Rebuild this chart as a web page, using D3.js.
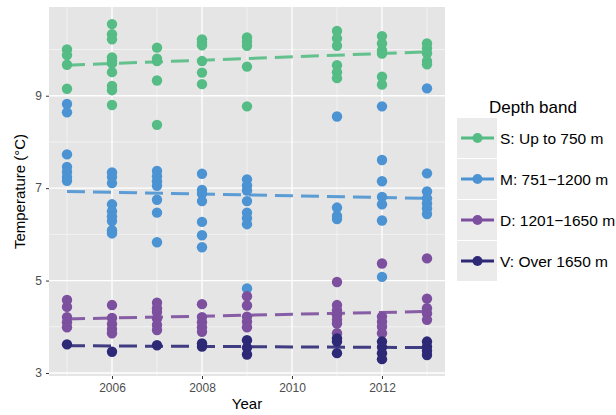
<!DOCTYPE html>
<html><head><meta charset="utf-8">
<script src="https://cdn.jsdelivr.net/npm/d3@7"></script>
<style>
html,body{margin:0;padding:0;background:#fff;}
text{font-family:"Liberation Sans",Arial,Helvetica,sans-serif;}
</style></head>
<body><svg id="chart" width="616" height="415"></svg>
<script>
// ---- data ----
const years = [2005, 2006, 2007, 2008, 2009, 2011, 2012, 2013];
const seriesNames = ["S: Up to 750 m", "M: 751\u22121200 m", "D: 1201\u22121650 m", "V: Over 1650 m"];
const seriesColors = ["#54BC84", "#4B93D3", "#7C4F9F", "#2D2977"];
const sValues = [[10.0,9.88,9.67,9.15],[10.55,10.33,10.22,9.83,9.76,9.70,9.51,9.21,9.12,8.80],[10.04,9.80,9.75,9.33,8.37],[10.22,10.15,10.09,9.75,9.50,9.25],[10.26,10.17,10.08,9.63,8.77],[10.40,10.24,10.08,9.66,9.51,9.38],[10.29,10.13,9.98,9.91,9.41,9.24],[10.13,10.03,9.92,9.75,9.68]];
const mValues = [[8.82,8.64,7.73,7.46,7.35,7.24,7.16],[7.34,7.24,7.11,6.65,6.50,6.39,6.29,6.09,6.02],[7.37,7.26,7.15,7.05,6.75,6.47,5.83],[7.31,6.96,6.88,6.72,6.27,5.98,5.72],[7.19,7.06,6.95,6.72,6.47,6.35,6.22,4.83],[8.55,6.58,6.40,6.33],[8.77,7.61,7.15,6.81,6.65,6.30,5.08],[9.16,7.32,6.93,6.78,6.67,6.56,6.44]];
const dValues = [[4.58,4.43,4.21,4.10,3.99],[4.47,4.19,4.06,3.95,3.86],[4.52,4.40,4.32,4.18,4.04,3.93],[4.49,4.21,4.10,3.99,3.89],[4.66,4.46,4.22,4.11,3.99],[4.97,4.47,4.36,4.25,4.15,4.07,3.86],[5.37,4.22,4.11,4.00,3.86],[5.48,4.61,4.40,4.29,4.15]];
const vValues = [[3.62],[3.46],[3.60],[3.64,3.57],[3.71,3.55,3.40],[3.75,3.68,3.43],[3.68,3.56,3.43,3.30],[3.68,3.57,3.48,3.39]];
const trendStart = [9.66, 6.93, 4.17, 3.59];   // fitted value at first year
const trendEnd = [9.95, 6.78, 4.33, 3.55];     // fitted value at last year
const xTicks = [2006, 2008, 2010, 2012];
const xMinor = [2005, 2007, 2009, 2011, 2013];
const yTicks = [3, 5, 7, 9];
const yMinor = [4, 6, 8, 10];

// ---- layout ----
const svg = d3.select("#chart");
const panel = {left: 49, right: 445, top: 7, bottom: 376};
const x = d3.scaleLinear().domain([2004.6, 2013.4]).range([panel.left, panel.right]);
const y = d3.scaleLinear().domain([2.935, 10.92]).range([panel.bottom, panel.top]);

svg.append("rect").attr("x", panel.left).attr("y", panel.top)
  .attr("width", panel.right - panel.left).attr("height", panel.bottom - panel.top)
  .attr("fill", "#E5E5E5");

const grid = svg.append("g");
grid.selectAll(".ymin").data(yMinor).join("line")
  .attr("x1", panel.left).attr("x2", panel.right)
  .attr("y1", d => y(d)).attr("y2", d => y(d))
  .attr("stroke", "#F5F5F5").attr("stroke-width", 0.8);
grid.selectAll(".xmin").data(xMinor).join("line")
  .attr("y1", panel.top).attr("y2", panel.bottom)
  .attr("x1", d => x(d)).attr("x2", d => x(d))
  .attr("stroke", "#F5F5F5").attr("stroke-width", 0.8);
grid.selectAll(".ymaj").data(yTicks).join("line")
  .attr("x1", panel.left).attr("x2", panel.right)
  .attr("y1", d => y(d)).attr("y2", d => y(d))
  .attr("stroke", "#FFFFFF").attr("stroke-width", 1.3);
grid.selectAll(".xmaj").data(xTicks).join("line")
  .attr("y1", panel.top).attr("y2", panel.bottom)
  .attr("x1", d => x(d)).attr("x2", d => x(d))
  .attr("stroke", "#FFFFFF").attr("stroke-width", 1.3);

// axes
const xAxis = svg.append("g").attr("transform", `translate(0,${panel.bottom})`)
  .call(d3.axisBottom(x).tickValues(xTicks).tickFormat(d3.format("d")).tickSize(3).tickPadding(4));
const yAxis = svg.append("g").attr("transform", `translate(${panel.left},0)`)
  .call(d3.axisLeft(y).tickValues(yTicks).tickFormat(d3.format("d")).tickSize(3).tickPadding(4));
[xAxis, yAxis].forEach(a => {
  a.select(".domain").remove();
  a.selectAll(".tick line").attr("stroke", "#333333").attr("stroke-width", 1);
  a.selectAll(".tick text").attr("fill", "#4D4D4D").style("font-size", "12px")
    .style("font-family", "'Liberation Sans', Arial, sans-serif");
});

svg.append("text").attr("x", (panel.left + panel.right) / 2).attr("y", 409)
  .attr("text-anchor", "middle").attr("fill", "#000").style("font-size", "15px").text("Year");
svg.append("text").attr("transform", `translate(25,${(panel.top + panel.bottom) / 2}) rotate(-90)`)
  .attr("text-anchor", "middle").attr("fill", "#000").style("font-size", "15px").text("Temperature (\u00B0C)");

// points
const allSeries = [sValues, mValues, dValues, vValues];
allSeries.forEach((series, si) => {
  const pts = [];
  series.forEach((vals, yi) => vals.forEach(v => pts.push({year: years[yi], v})));
  svg.append("g").selectAll("circle").data(pts).join("circle")
    .attr("cx", d => x(d.year)).attr("cy", d => y(d.v)).attr("r", 5.2)
    .attr("fill", seriesColors[si]);
});

// trend lines
allSeries.forEach((series, si) => {
  const line = d3.line().x(d => x(d[0])).y(d => y(d[1]));
  svg.append("path")
    .attr("d", line([[years[0], trendStart[si]], [years[years.length - 1], trendEnd[si]]]))
    .attr("fill", "none").attr("stroke", seriesColors[si]).attr("stroke-width", 3)
    .attr("stroke-opacity", 0.9).attr("stroke-dasharray", "18,8");
});

// legend
const lg = svg.append("g");
lg.append("text").attr("x", 489).attr("y", 113).attr("fill", "#000")
  .style("font-size", "17px").text("Depth band");
seriesNames.forEach((name, i) => {
  const y0 = 118 + i * 41;
  lg.append("rect").attr("x", 457).attr("y", y0).attr("width", 40).attr("height", 40)
    .attr("fill", "#EBEBEB");
  lg.append("line").attr("x1", 461).attr("x2", 494).attr("y1", y0 + 20).attr("y2", y0 + 20)
    .attr("stroke", seriesColors[i]).attr("stroke-width", 3);
  lg.append("circle").attr("cx", 477.5).attr("cy", y0 + 20).attr("r", 5)
    .attr("fill", seriesColors[i]);
  lg.append("text").attr("x", 500).attr("y", y0 + 25.5).attr("fill", "#000")
    .style("font-size", "15.5px").text(name);
});
</script></body></html>
